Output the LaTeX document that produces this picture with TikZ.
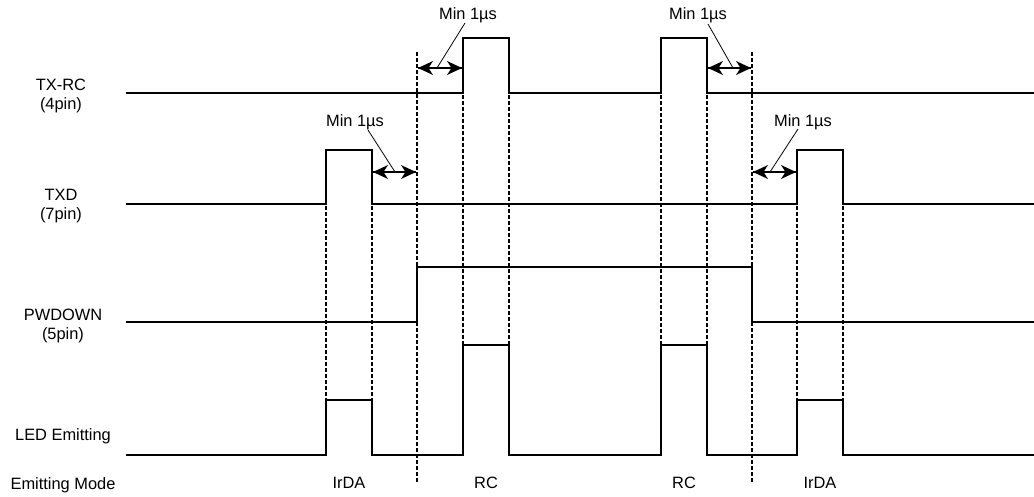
\documentclass[tikz,border=0pt]{standalone}
\usepackage{fontspec}
\setmainfont{Liberation Sans}
\usetikzlibrary{arrows.meta}
\begin{document}
\begin{tikzpicture}[x=1pt,y=-1pt,
  sig/.style={line width=1.9pt, line join=miter},
  guide/.style={line width=1.5pt, dash pattern=on 3.5pt off 2.5pt},
  lbl/.style={font=\fontsize{16.4}{19}\selectfont, align=center, inner sep=0pt, anchor=base},
  dim/.style={line width=1.9pt},
  lhead/.pic={\fill (0,0) -- (15,-7) -- (10.5,0) -- (15,7) -- cycle;},
  rhead/.pic={\fill (0,0) -- (-15,-7) -- (-10.5,0) -- (-15,7) -- cycle;},
  leader/.style={line width=0.8pt}]
\useasboundingbox (0,0) rectangle (1034,496);

% signal labels (base = baseline of the last line)
\node[lbl] (ltxrc) at (61,109) {TX-RC\\(4pin)};
\node[lbl] (ltxd) at (61,219) {TXD\\(7pin)};
\node[lbl] (lpwd) at (63,339) {PWDOWN\\(5pin)};
\node[lbl] (lled) at (63,440) {LED Emitting};
\node[lbl] (lmode) at (63,489) {Emitting Mode};

% mode labels
\node[lbl] (m1) at (349,488) {IrDA};
\node[lbl] (m2) at (486,488) {RC};
\node[lbl] (m3) at (684,488) {RC};
\node[lbl] (m4) at (820,488) {IrDA};

% waveforms
\draw[sig] (126,93) -- (463,93) -- (463,38) -- (509,38) -- (509,93) -- (661,93) -- (661,38) -- (707,38) -- (707,93) -- (1034,93);
\draw[sig] (126,204) -- (326,204) -- (326,150) -- (372,150) -- (372,204) -- (797,204) -- (797,150) -- (843,150) -- (843,204) -- (1034,204);
\draw[sig] (126,322) -- (417,322) -- (417,267) -- (752,267) -- (752,322) -- (1034,322);
\draw[sig] (126,455) -- (326,455) -- (326,400) -- (372,400) -- (372,455) -- (463,455) -- (463,345) -- (509,345) -- (509,455) -- (661,455) -- (661,345) -- (707,345) -- (707,455) -- (797,455) -- (797,400) -- (843,400) -- (843,455) -- (1034,455);

% guide lines
\foreach \x in {326,372,797,843} \draw[guide] (\x,206) -- (\x,399);
\foreach \x in {463,509,661,707} \draw[guide] (\x,95) -- (\x,344);
\draw[guide] (417,52) -- (417,482);
\draw[guide] (752,52) -- (752,482);

% timing dimensions
\coordinate (d1l) at (418,68); \coordinate (d1r) at (462,68);
\coordinate (d2l) at (708,68); \coordinate (d2r) at (751,68);
\coordinate (d3l) at (373,172); \coordinate (d3r) at (416,172);
\coordinate (d4l) at (753,172); \coordinate (d4r) at (796,172);
\draw[dim] (d1l) -- (d1r);
\draw[dim] (d2l) -- (d2r);
\draw[dim] (d3l) -- (d3r);
\draw[dim] (d4l) -- (d4r);
\pic at (d1l) {lhead}; \pic at (d1r) {rhead};
\pic at (d2l) {lhead}; \pic at (d2r) {rhead};
\pic at (d3l) {lhead}; \pic at (d3r) {rhead};
\pic at (d4l) {lhead}; \pic at (d4r) {rhead};

\node[lbl] (t1) at (468,19) {Min 1µs};
\node[lbl] (t2) at (698,19) {Min 1µs};
\node[lbl] (t3) at (355,126) {Min 1µs};
\node[lbl] (t4) at (803,126) {Min 1µs};

\coordinate (p1a) at (465,23); \coordinate (p1b) at (437,68);
\coordinate (p2a) at (708,24); \coordinate (p2b) at (733,68);
\coordinate (p3a) at (368,130); \coordinate (p3b) at (395,172);
\coordinate (p4a) at (798,129); \coordinate (p4b) at (770,172);
\draw[leader] (p1a) -- (p1b);
\draw[leader] (p2a) -- (p2b);
\draw[leader] (p3a) -- (p3b);
\draw[leader] (p4a) -- (p4b);
\end{tikzpicture}
\end{document}
